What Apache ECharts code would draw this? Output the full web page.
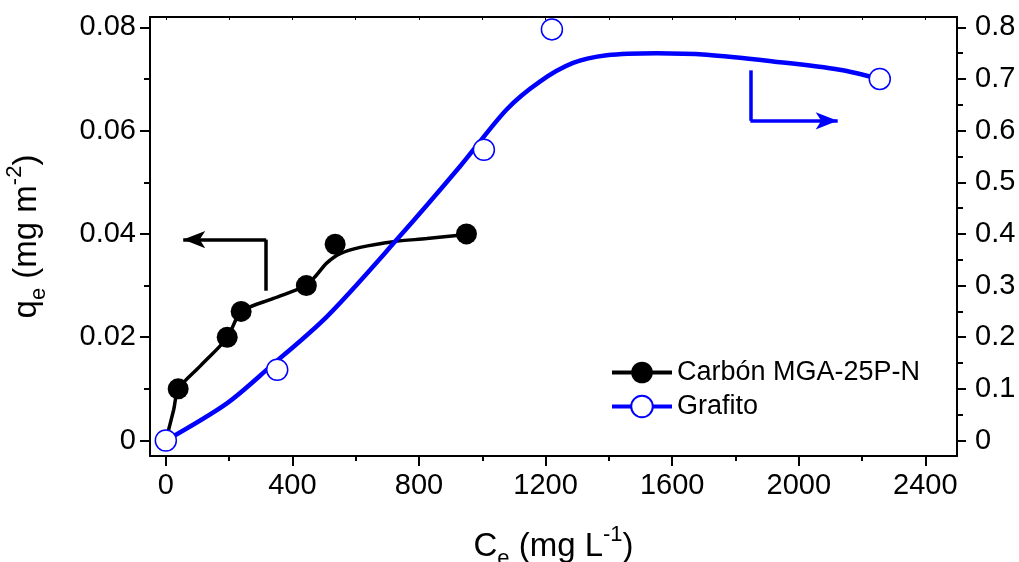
<!DOCTYPE html>
<html>
<head>
<meta charset="utf-8">
<script src="https://cdn.jsdelivr.net/npm/echarts@6/dist/echarts.min.js"></script>
<style>
  html, body { margin: 0; padding: 0; background: #fff; }
  #chart { width: 1019px; height: 562px; }
</style>
</head>
<body>
<div id="chart"></div>
<script>
// Measured adsorption points: [Ce (mg/L), qe]
var carbonPoints = [[0, 0], [39, 0.010], [194, 0.020], [238, 0.025], [444, 0.030], [535, 0.038], [950, 0.040]];
var grafitoPoints = [[0, 0], [352, 0.137], [1005, 0.563], [1220, 0.796], [2256, 0.700]];

// Fitted isotherm curves, sampled along the drawn fit
var carbonFit = [[0, 0], [6, 0.0014], [25, 0.0060], [40, 0.0100], [110, 0.0145], [194, 0.0199],
  [238, 0.0249], [340, 0.0275], [443, 0.0300], [477, 0.0321], [509, 0.0344], [551, 0.0362],
  [614, 0.0374], [719, 0.0385], [825, 0.0391], [951, 0.0399]];
var grafitoFit = [[0, 0], [193, 0.072], [330, 0.143], [509, 0.240], [730, 0.389], [930, 0.531],
  [1077, 0.641], [1182, 0.695], [1287, 0.731], [1393, 0.746], [1551, 0.750], [1709, 0.747],
  [1919, 0.734], [2129, 0.718], [2256, 0.700]];

// Axis ticks and labels
var xLabels = [0, 400, 800, 1200, 1600, 2000, 2400];
var xMinor = [200, 600, 1000, 1400, 1800, 2200];
var xTopTicks = [0, 200, 400, 600, 800, 1000, 1200, 1400, 1600, 1800, 2000, 2200, 2400];
var yLeftLabels = [0, 0.02, 0.04, 0.06, 0.08];
var yLeftMinor = [0.01, 0.03, 0.05, 0.07];
var yRightLabels = [0, 0.1, 0.2, 0.3, 0.4, 0.5, 0.6, 0.7, 0.8];
var yRightMinor = [0.05, 0.15, 0.25, 0.35, 0.45, 0.55, 0.65, 0.75];

// Axis-direction arrows: vertical leg start, corner, arrow tip
var carbonArrow = { start: [317, 0.0290], corner: [317, 0.0389], tip: [55, 0.0389] };
var grafitoArrow = { start: [1847, 0.7167], corner: [1847, 0.619], tip: [2123, 0.619] };

var FONT = 'Liberation Sans, Arial, sans-serif';
var BLUE = '#0000ff';
var X_MIN = -50, X_MAX = 2500;
var YL_MIN = -0.003, YL_MAX = 0.082;
var YR_MIN = -0.03, YR_MAX = 0.82;

function fmt(v) { return v === 0 ? '0' : String(v); }

var nameRich = {
  m: { fontSize: 33, fontFamily: FONT, color: '#000', lineHeight: 46 },
  sub: { fontSize: 22, fontFamily: FONT, color: '#000', lineHeight: 14, verticalAlign: 'bottom' },
  sup: { fontSize: 22, fontFamily: FONT, color: '#000', lineHeight: 16, verticalAlign: 'top' }
};

var axisLine = { show: true, onZero: false, lineStyle: { color: '#000', width: 2 } };
var noLine = { show: false, onZero: false };
var gridBox = { left: 150, right: 62, top: 17, bottom: 106, containLabel: false, outerBoundsMode: 'none' };
var labelStyle = { fontSize: 29, color: '#000', fontFamily: FONT };

function arrowMarkLine(a, color) {
  return {
    silent: true,
    animation: false,
    label: { show: false },
    emphasis: { disabled: true },
    lineStyle: { color: color, width: 3.5, type: 'solid' },
    data: [
      [{ coord: a.start, symbol: 'none' }, { coord: a.corner, symbol: 'none' }],
      [{ coord: a.corner, symbol: 'none' }, { coord: a.tip, symbol: 'arrow', symbolSize: [13, 22] }]
    ]
  };
}

var option = {
  animation: false,
  backgroundColor: '#fff',
  textStyle: { fontFamily: FONT },
  grid: [gridBox, Object.assign({}, gridBox)],
  legend: {
    data: ['Carbón MGA-25P-N', 'Grafito'],
    orient: 'vertical',
    left: 610,
    top: 359,
    padding: 0,
    itemWidth: 60,
    itemHeight: 27,
    itemGap: 7,
    lineStyle: { width: 4 },
    textStyle: { fontSize: 27, fontFamily: FONT, color: '#000', lineHeight: 27 },
    selectedMode: false
  },
  xAxis: [
    {
      type: 'value', gridIndex: 0, position: 'bottom', min: X_MIN, max: X_MAX,
      axisLine: axisLine,
      axisTick: { show: true, inside: false, length: 10, customValues: xLabels, lineStyle: { color: '#000', width: 2 } },
      axisLabel: Object.assign({ customValues: xLabels, formatter: fmt, margin: 15 }, labelStyle),
      splitLine: { show: false },
      name: '{m|C}{sub|e}{m| (mg L}{sup|-1}{m|)}',
      nameLocation: 'middle', nameGap: 68,
      nameTextStyle: { rich: nameRich }
    },
    {
      type: 'value', gridIndex: 0, position: 'top', min: X_MIN, max: X_MAX,
      axisLine: axisLine,
      axisTick: { show: true, inside: true, length: 3, customValues: xTopTicks, lineStyle: { color: '#000', width: 1 } },
      axisLabel: { show: false },
      splitLine: { show: false }
    },
    {
      type: 'value', gridIndex: 1, position: 'bottom', min: X_MIN, max: X_MAX,
      axisLine: noLine,
      axisTick: { show: true, inside: false, length: 5, customValues: xMinor, lineStyle: { color: '#000', width: 2 } },
      axisLabel: { show: false },
      splitLine: { show: false }
    }
  ],
  yAxis: [
    {
      type: 'value', gridIndex: 0, position: 'left', min: YL_MIN, max: YL_MAX,
      axisLine: axisLine,
      axisTick: { show: true, inside: false, length: 10, customValues: yLeftLabels, lineStyle: { color: '#000', width: 2 } },
      axisLabel: Object.assign({ customValues: yLeftLabels, formatter: fmt, margin: 14 }, labelStyle),
      splitLine: { show: false },
      name: '{m|q}{sub|e}{m| (mg m}{sup|-2}{m|)}',
      nameLocation: 'middle', nameGap: 100, nameRotate: 90,
      nameTextStyle: { rich: nameRich }
    },
    {
      type: 'value', gridIndex: 0, position: 'right', min: YR_MIN, max: YR_MAX,
      axisLine: axisLine,
      axisTick: { show: true, inside: false, length: 9, customValues: yRightLabels, lineStyle: { color: '#000', width: 2 } },
      axisLabel: Object.assign({ customValues: yRightLabels, formatter: fmt, margin: 18 }, labelStyle),
      splitLine: { show: false }
    },
    {
      type: 'value', gridIndex: 1, position: 'left', min: YL_MIN, max: YL_MAX,
      axisLine: noLine,
      axisTick: { show: true, inside: false, length: 6, customValues: yLeftMinor, lineStyle: { color: '#000', width: 2 } },
      axisLabel: { show: false },
      splitLine: { show: false }
    },
    {
      type: 'value', gridIndex: 1, position: 'right', min: YR_MIN, max: YR_MAX,
      axisLine: noLine,
      axisTick: { show: true, inside: false, length: 6, customValues: yRightMinor, lineStyle: { color: '#000', width: 2 } },
      axisLabel: { show: false },
      splitLine: { show: false }
    }
  ],
  series: [
    {
      name: 'Carbón MGA-25P-N', type: 'line', xAxisIndex: 0, yAxisIndex: 0,
      data: carbonFit, smooth: 0.3, showSymbol: false, symbol: 'circle',
      lineStyle: { color: '#000', width: 3.5 },
      itemStyle: { color: '#000' },
      z: 2,
      markLine: arrowMarkLine(carbonArrow, '#000')
    },
    {
      name: 'Grafito', type: 'line', xAxisIndex: 0, yAxisIndex: 1,
      data: grafitoFit, smooth: 0.3, showSymbol: false, symbol: 'circle',
      lineStyle: { color: BLUE, width: 4.5 },
      itemStyle: { color: '#fff', borderColor: BLUE, borderWidth: 1.5 },
      z: 3,
      markLine: arrowMarkLine(grafitoArrow, BLUE)
    },
    {
      name: 'Carbón MGA-25P-N', type: 'scatter', xAxisIndex: 0, yAxisIndex: 0,
      data: carbonPoints, symbol: 'circle', symbolSize: 21,
      itemStyle: { color: '#000', opacity: 1 },
      z: 4
    },
    {
      name: 'Grafito', type: 'scatter', xAxisIndex: 0, yAxisIndex: 1,
      data: grafitoPoints, symbol: 'circle', symbolSize: 21,
      itemStyle: { color: '#fff', borderColor: BLUE, borderWidth: 1.5, opacity: 1 },
      z: 5
    }
  ]
};

var chart = echarts.init(document.getElementById('chart'), null, { renderer: 'canvas' });
chart.setOption(option);
</script>
</body>
</html>
